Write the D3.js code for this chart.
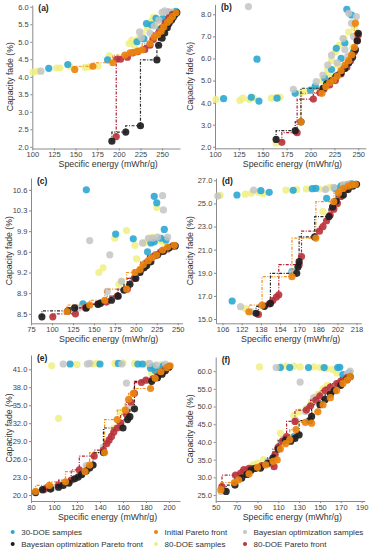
<!DOCTYPE html>
<html>
<head>
<meta charset="utf-8">
<script src="https://cdn.jsdelivr.net/npm/d3@7/dist/d3.min.js"></script>
<style>
body { margin: 0; background: #fff; }
svg { display: block; }
text { font-family: "Liberation Sans", Arial, sans-serif; }
</style>
</head>
<body>
<div id="chart"></div>
<script>
// ---- panel (a) ----
var a_doe30 = [[119,4.24],[141,4.35],[187,4.48],[221,5.0],[229,5.08],[232,5.52],[238,5.48],[243,5.67],[247,5.35],[251,5.66],[258,5.84],[266,5.87]];
var a_doe80 = [[101,4.13],[106,4.16],[128,4.25],[132,4.25],[143,4.3],[161,4.27],[166,4.28],[176,4.3],[189,4.6],[212,4.95],[215,5.05],[218,4.9],[223,5.1],[227,5.25],[233,5.4],[238,5.6],[240,5.7],[244,5.5],[247,5.62],[252,5.75],[256,5.8]];
var a_bo = [[110,4.16],[224,5.28],[226,5.12],[236,5.25],[241,5.45],[246,5.62],[250,5.84],[253,5.88],[257,5.86],[261,5.8],[262,5.85]];
var a_init = [[149,4.21],[170,4.3],[193,4.4],[207,4.62],[213,4.68],[218,4.7],[222,4.73],[227,4.77],[236,4.95],[241,5.13],[245,5.2],[249,5.3],[252,5.42],[256,5.55],[259,5.62],[262,5.72],[266,5.83]];
var a_front80 = [[197,2.29],[197.5,4.5],[202,4.5],[210,4.56],[216,4.68],[222,4.72],[230,4.78],[236,4.9],[240,5.07],[246,5.25],[250,5.4],[254,5.55],[258,5.68],[262,5.78]];
var a_frontbo = [[192,2.16],[208,2.42],[225,2.6],[244,4.48],[246,4.9],[250,5.1],[253,5.25],[256,5.4],[258,5.52],[261,5.62],[263,5.7],[265,5.78],[267,5.83]];
var a_xticks = [100,125,150,175,200,225,250];
var a_yticks = [2.0,2.5,3.0,3.5,4.0,4.5,5.0,5.5,6.0];

// ---- panel (b) ----
var b_doe30 = [[109,4.18],[138,4.24],[144,5.97],[146,4.07],[165,4.2],[184,4.42],[200,4.57],[205,4.75],[215,5.1],[222,5.5],[227,6.46],[232,6.0],[236,6.7],[238,8.23],[243,7.97],[245,6.3]];
var b_doe80 = [[101,4.15],[126,4.1],[129,4.2],[136,4.15],[140,4.22],[159,4.2],[163,4.22],[168,4.25],[164,2.17],[190,4.45],[194,4.5],[205,4.7],[212,5.0],[218,5.5],[222,5.9],[226,6.3],[230,6.6],[235,6.9],[240,7.2],[244,6.5],[246,7.4],[228,5.7],[220,5.3]];
var b_bo = [[135,8.35],[182,4.6],[206,4.95],[213,5.25],[218,5.7],[222,6.15],[228,5.8],[234,6.9],[236,6.4],[240,8.05],[243,7.6],[248,7.9],[245,7.0],[239,6.1]];
var b_init = [[190,3.13],[212,4.42],[216,4.72],[220,4.9],[224,5.02],[228,5.2],[232,5.45],[236,5.7],[240,5.9],[243,6.16],[246,6.5],[247,7.6]];
var b_front80 = [[170,2.2],[186,2.64],[203,4.16],[210,4.45],[214,4.6],[220,4.8],[226,5.0],[232,5.3],[238,5.6],[242,5.9],[246,6.3],[249,6.8],[250,7.06]];
var b_frontbo = [[164,2.33],[184,2.73],[190,3.13],[213,4.65],[217,4.85],[222,5.0],[227,5.2],[232,5.35],[236,5.55],[240,5.8],[244,6.05],[247,6.4],[249,6.8],[250,7.14]];
var b_xticks = [100,125,150,175,200,225,250];
var b_yticks = [2.0,3.0,4.0,5.0,6.0,7.0,8.0];

// ---- panel (c) ----
var c_doe30 = [[141,10.6],[222,10.49],[225,10.38],[176,9.85],[197,9.77],[234,9.93],[225,9.5],[214,9.55],[218,9.7],[230,9.78],[236,9.75],[137,8.67],[222,9.72]];
var c_doe80 = [[225,10.3],[189,9.91],[199,9.66],[175,9.78],[156,9.2],[161,9.28],[201,9.43],[210,9.7],[216,9.75],[220,9.8],[228,9.75],[232,9.72],[180,9.0],[137,8.65],[183,9.05]];
var c_bo = [[232,10.5],[233,10.26],[145,9.74],[169,9.5],[208,9.7],[215,9.78],[220,9.78],[226,9.8],[238,9.8],[166,8.88],[183,9.05],[132,8.6]];
var c_init = [[118,8.54],[145,8.65],[163,8.73],[189,8.92],[199,9.2],[205,9.25],[209,9.33],[215,9.4],[219,9.45],[225,9.5],[232,9.58],[238,9.63],[246,9.66]];
var c_front80 = [[101,8.45],[128,8.5],[140,8.6],[155,8.67],[165,8.7],[178,8.8],[190,8.92],[198,9.1],[206,9.25],[214,9.38],[222,9.48],[230,9.55],[238,9.6],[244,9.65]];
var c_frontbo = [[88,8.45],[119,8.55],[127,8.6],[141,8.6],[155,8.66],[158,8.68],[171,8.73],[179,8.8],[186,8.9],[193,9.0],[200,9.1],[205,9.2],[210,9.28],[213,9.32],[218,9.38],[226,9.5],[233,9.56],[240,9.62],[247,9.65]];
var c_xticks = [75,100,125,150,175,200,225,250];
var c_yticks = [8.5,8.85,9.2,9.55,9.9,10.25,10.6];
var c_ylabels = ["8.5","8.9","9.2","9.6","9.9","10.3","10.6"];

// ---- panel (d) ----
var d_doe30 = [[118,25.73],[114,16.56],[138,26.1],[145,25.96],[164,19.1],[165,26.13],[181,26.28],[184,26.3],[193,25.44],[200,26.3],[205,26.5],[210,26.6],[214,26.7]];
var d_doe80 = [[104,25.7],[125,25.8],[130,25.9],[136,25.96],[140,25.85],[159,26.16],[168,26.2],[176,26.25],[187,26.25],[193,26.3],[201,24.86],[190,24.3],[125,15.9],[196,26.4],[206,26.6]];
var d_bo = [[102,25.64],[132,26.16],[121,16.07],[130,15.63],[192,26.2],[199,26.4],[207,26.6],[212,26.7],[164,19.0]];
var d_init = [[128,15.63],[139,16.2],[164,18.66],[184,22.0],[199,25.15],[203,25.9],[207,26.3],[211,26.5],[214,26.6],[217,26.65]];
var d_front80 = [[136,15.4],[145,16.3],[148,16.6],[151,16.9],[153,17.1],[170,19.7],[172,20.4],[187,22.6],[190,23.0],[193,23.5],[196,24.0],[199,24.5],[202,25.0],[205,25.6],[209,26.2],[214,26.6]];
var d_frontbo = [[134,15.5],[141,16.1],[146,16.35],[168,18.95],[169,19.5],[170,19.96],[183,22.1],[195,23.86],[198,24.7],[201,25.2],[207,25.73],[211,26.2],[215,26.5],[218,26.65]];
var d_xticks = [106,122,138,154,170,186,202,218];
var d_yticks = [15,17,19,21,23,25,27];

// ---- panel (e) ----
var e_doe30 = [[114,41.9],[140,41.9],[156,42],[173,41.9],[177,41.9],[186,41.5],[188,40.8],[190,40.5],[192,41.0],[195,41.6],[184,41.2]];
var e_doe80 = [[98,41.6],[104,32.8],[120,41.8],[133,41.9],[137,42],[153,42],[160,42.1],[170,42],[180,41.9],[186,40.9],[185,40.3],[193,41.8],[158,33.8],[162,34.3],[152,31.2]];
var e_bo = [[108,41.9],[129,41.9],[131,42],[159,41.9],[183,42],[189,41.7],[197,41.9],[163,38.7],[128,24.9],[143,28],[91,20.8],[99,21.2],[165,34.5]];
var e_init = [[84,20.6],[96,21.6],[110,22.2],[127,23.9],[131,25.0],[144,27.1],[155,32.6],[162,34.2],[165,36.0],[169,37.0],[184,37.8],[188,39.5],[193,40.6],[198,41.3],[201,41.6]];
var e_front80 = [[92,21.0],[104,21.7],[115,22.5],[122,24.2],[135,26.5],[143,27.5],[146,28.6],[148,29.2],[150,29.8],[152,30.5],[155,31.2],[158,32.0],[163,33.5],[167,35.5],[170,37.0],[176,38.8],[180,39.2],[186,39.4],[190,39.8],[195,40.7],[200,41.4]];
var e_frontbo = [[84,20.4],[90,20.9],[97,21.0],[104,21.3],[108,21.6],[113,22.0],[118,22.7],[121,23.0],[124,23.4],[128,24.0],[131,24.5],[134,25.0],[143,27.1],[160,31.2],[164,32.6],[166,33.1],[170,34.4],[185,39.0],[190,39.6],[194,40.2],[197,40.8],[200,41.4]];
var e_xticks = [80,100,120,140,160,180,200];
var e_yticks = [20,23,26,29,32,35,38,41];

// ---- panel (f) ----
var f_doe30 = [[112,61],[121,61],[139,61],[154,61],[167,61],[169,61.1],[172,59],[175,58.5],[178,59.5],[125,41.5]];
var f_doe80 = [[92,61.2],[113,61.3],[118,61.4],[125,61.4],[131,61.2],[144,61.2],[150,61],[156,60.7],[162,60.5],[166,59.5],[157,56.0],[153,55.0],[148,53.5],[142,51.5],[137,49.5],[130,48.5],[125,47.5],[112,42.5],[96,35.0],[90,34.0],[86,33.5],[75,31],[172,57.8]];
var f_bo = [[108,61],[131,56.9],[179,60],[176,59.2],[144,52.5],[136,48.6],[127,46],[115,40.8],[100,34.5],[55,26],[80,32]];
var f_init = [[55,26.5],[68,28.5],[72,29.3],[82,31.0],[90,32.8],[98,33.5],[105,34.5],[109,34.9],[112,38],[117,39.5],[121,40.6],[127,43.5],[136,45.5],[142,45.3],[148,48.5],[153,50.5],[160,52.5],[166,54.5],[172,56.5],[176,57.5],[179,58.5]];
var f_front80 = [[56,27.4],[69,30.6],[74,31.2],[77,32.2],[82,32.5],[94,33.2],[106,33],[107,36.5],[110,38.5],[114,40.2],[118,41.5],[126,45.8],[137,49.0],[141,50.2],[146,51.8],[150,53.0],[155,54.5],[160,55.5],[166,56.5],[170,57.2],[176,58.2]];
var f_frontbo = [[60,26],[68.5,27.8],[75,29.8],[80,30.8],[84,32.0],[88,32.5],[93,32.6],[100,34.0],[105,35.5],[110,38],[117,40.5],[122,40.2],[126,41.0],[130,42],[140,46.0],[142,47.2],[150,50.5],[155,52.0],[160,53.5],[164,54.5],[170,56],[176,57.6],[179,58.4]];
var f_xticks = [50,70,90,110,130,150,170,190];
var f_yticks = [25,30,35,40,45,50,55,60];

var legendNames = ["30-DOE samples", "Initial Pareto front", "Bayesian optimization samples",
                   "Bayesian optimization Pareto front", "80-DOE samples", "80-DOE Pareto front"];

var colors = {
    doe30: "#2ba7d3", init: "#ea840f", bo: "#c4c4c4",
    frontbo: "#1d1d1d", doe80: "#f0ef80", front80: "#b9313a"
};
var lineColors = { init: "#f0901e", front80: "#b3202f", frontbo: "#2a2a2a" };

var panels = [
    { letter: "(a)", doe30: a_doe30, doe80: a_doe80, bo: a_bo, init: a_init, front80: a_front80, frontbo: a_frontbo,
      left: 32.3, right: 180, top: 5, bottom: 148.5, xd: [100, 270.7], yd: [1.95, 6.05], xt: a_xticks, yt: a_yticks, ylx: 12.5 },
    { letter: "(b)", doe30: b_doe30, doe80: b_doe80, bo: b_bo, init: b_init, front80: b_front80, frontbo: b_frontbo,
      left: 215, right: 365.9, top: 4.4, bottom: 148.3, xd: [100, 258], yd: [1.93, 8.45], xt: b_xticks, yt: b_yticks, ylx: 193 },
    { letter: "(c)", doe30: c_doe30, doe80: c_doe80, bo: c_bo, init: c_init, front80: c_front80, frontbo: c_frontbo,
      left: 31, right: 182.4, top: 178, bottom: 323.3, xd: [75, 255.6], yd: [8.34, 10.8], xt: c_xticks, yt: c_yticks, yl: c_ylabels, ylx: 11.5 },
    { letter: "(d)", doe30: d_doe30, doe80: d_doe80, bo: d_bo, init: d_init, front80: d_front80, frontbo: d_frontbo,
      left: 216, right: 361.3, top: 178, bottom: 323.3, xd: [100.5, 222], yd: [14.63, 27.2], xt: d_xticks, yt: d_yticks, ylx: 193 },
    { letter: "(e)", doe30: e_doe30, doe80: e_doe80, bo: e_bo, init: e_init, front80: e_front80, frontbo: e_frontbo,
      left: 31, right: 180, top: 355, bottom: 501, xd: [80, 209.6], yd: [19.0, 43.4], xt: e_xticks, yt: e_yticks, ylx: 11.5 },
    { letter: "(f)", doe30: f_doe30, doe80: f_doe80, bo: f_bo, init: f_init, front80: f_front80, frontbo: f_frontbo,
      left: 215.7, right: 364.8, top: 357, bottom: 501, xd: [50, 193], yd: [23.3, 64], xt: f_xticks, yt: f_yticks, ylx: 193 }
];

var svg = d3.select("#chart").append("svg")
    .attr("width", 373)
    .attr("height", 550);

function styleAxis(sel) {
    sel.select(".domain").attr("stroke", "#8a8a8a");
    sel.selectAll(".tick line").attr("stroke", "#8a8a8a");
    sel.selectAll(".tick text").attr("fill", "#444").attr("font-size", 7.5);
}

function drawPanel(p) {
    var x = d3.scaleLinear().domain(p.xd).range([p.left, p.right]);
    var y = d3.scaleLinear().domain(p.yd).range([p.bottom, p.top]);
    var g = svg.append("g");

    var yAxis = d3.axisLeft(y).tickValues(p.yt).tickSize(2).tickPadding(1.7).tickSizeOuter(0);
    if (p.yl) yAxis.tickFormat(function(d, i) { return p.yl[i]; });
    else yAxis.tickFormat(d3.format(".1f"));

    g.append("g")
        .attr("transform", "translate(0," + p.bottom + ")")
        .call(d3.axisBottom(x).tickValues(p.xt).tickFormat(d3.format("d")).tickSize(2).tickPadding(1.5).tickSizeOuter(0))
        .call(styleAxis);
    g.append("g")
        .attr("transform", "translate(" + p.left + ",0)")
        .call(yAxis)
        .call(styleAxis);

    g.append("text")
        .attr("x", (p.left + p.right) / 2 + 2)
        .attr("y", p.bottom + 18.5)
        .attr("text-anchor", "middle")
        .attr("font-size", 8.8)
        .attr("fill", "#333")
        .text("Specific energy (mWhr/g)");
    g.append("text")
        .attr("transform", "translate(" + p.ylx + "," + ((p.top + p.bottom) / 2) + ") rotate(-90)")
        .attr("text-anchor", "middle")
        .attr("font-size", 8.7)
        .attr("fill", "#333")
        .text("Capacity fade (%)");
    g.append("text")
        .attr("x", p.left + 6)
        .attr("y", p.top + 6)
        .attr("font-size", 8.5)
        .attr("font-weight", "bold")
        .attr("fill", "#222")
        .text(p.letter);

    function dots(key, op) {
        g.append("g").selectAll("circle")
            .data(p[key])
            .enter().append("circle")
            .attr("cx", function(d) { return x(d[0]); })
            .attr("cy", function(d) { return y(d[1]); })
            .attr("r", 3.6)
            .attr("fill", colors[key])
            .attr("opacity", op);
    }

    var line = d3.line()
        .x(function(d) { return x(d[0]); })
        .y(function(d) { return y(d[1]); })
        .curve(d3.curveStepBefore);

    dots("doe80", 0.85);
    dots("doe30", 0.9);
    dots("bo", 0.85);

    ["front80", "init", "frontbo"].forEach(function(k) {
        g.append("path")
            .attr("d", line(p[k]))
            .attr("fill", "none")
            .attr("stroke", lineColors[k])
            .attr("stroke-width", 1.2)
            .attr("stroke-dasharray", "3,1.5,1,1.5");
    });

    dots("front80", 0.9);
    dots("frontbo", 0.92);
    dots("init", 0.92);
}

panels.forEach(drawPanel);

// legend
var legendKeys = ["doe30", "init", "bo", "frontbo", "doe80", "front80"];
var legendX = [12.7, 156, 245];
var legendY = [532, 544];
var lg = svg.append("g");
legendKeys.forEach(function(k, i) {
    var lx = legendX[i % 3], ly = legendY[Math.floor(i / 3)];
    lg.append("circle").attr("cx", lx).attr("cy", ly).attr("r", 2).attr("fill", colors[k]);
    lg.append("text")
        .attr("x", lx + 8.5)
        .attr("y", ly + 2.9)
        .attr("font-size", 8)
        .attr("fill", "#333")
        .text(legendNames[i]);
});
</script>
</body>
</html>
